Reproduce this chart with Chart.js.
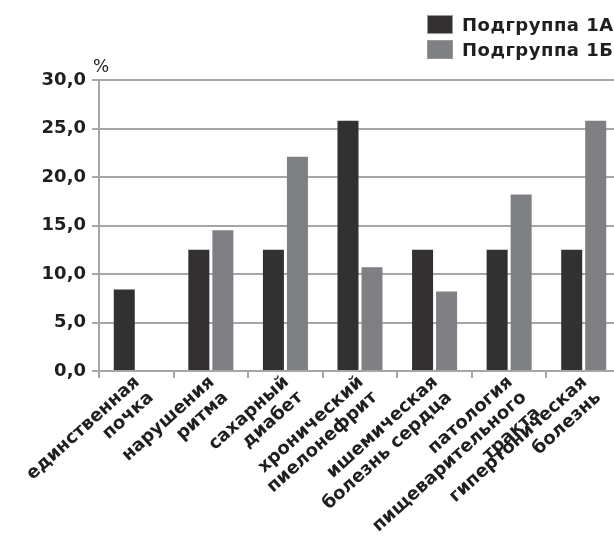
<!DOCTYPE html>
<html>
<head>
<meta charset="utf-8">
<script src="https://cdn.jsdelivr.net/npm/chart.js@4/dist/chart.umd.min.js"></script>
<style>
  body { margin: 0; overflow: hidden; background: #fff; }
  #wrap { position: relative; width: 640px; height: 539px; }
  #legend { position: absolute; top: 12px; left: 427px; font: bold 18px "DejaVu Sans", sans-serif; letter-spacing: 0.5px; color: #1f1f1f; white-space: nowrap; }
  #legend div { height: 25px; display: flex; align-items: center; }
  #legend span.box { display: inline-block; width: 26px; height: 19px; margin-right: 9px; box-sizing: border-box; border: 1px solid #999; }
</style>
</head>
<body>
<div id="wrap">
  <canvas id="chart"></canvas>
  <div id="legend"></div>
</div>
<script>
// Data
const categories = [
    ['единственная', 'почка'],
    ['нарушения', 'ритма'],
    ['сахарный', 'диабет'],
    ['хронический', 'пиелонефрит'],
    ['ишемическая', 'болезнь сердца'],
    ['патология', 'пищеварительного', 'тракта'],
    ['гипертоническая', 'болезнь']
];
const seriesNames = ['Подгруппа 1А', 'Подгруппа 1Б'];
const groupA = [8.4, 12.5, 12.5, 25.8, 12.5, 12.5, 12.5];
const groupB = [0, 14.5, 22.1, 10.7, 8.2, 18.2, 25.8];
const yTicks = [0, 5, 10, 15, 20, 25, 30];

const gridColor = '#a6a6a6';

// "%" over the y axis
const percentSign = {
    id: 'percentSign',
    afterDraw(chart) {
        const { ctx, chartArea } = chart;
        ctx.save();
        ctx.font = '17px "DejaVu Sans"';
        ctx.fillStyle = '#1f1f1f';
        ctx.textAlign = 'center';
        ctx.textBaseline = 'alphabetic';
        ctx.fillText('%', chartArea.left + 2, chartArea.top - 8);
        ctx.restore();
    }
};

const ctx = document.getElementById('chart').getContext('2d');
const chart = new Chart(ctx, {
    type: 'bar',
    data: {
        labels: categories,
        datasets: [
            { label: seriesNames[0], data: groupA, backgroundColor: '#323031' },
            { label: seriesNames[1], data: groupB, backgroundColor: '#7f8083' }
        ]
    },
    options: {
        responsive: true,
        maintainAspectRatio: false,
        animation: false,
        datasets: { bar: { barPercentage: 0.875, categoryPercentage: 0.644 } },
        layout: { padding: { top: 80, right: 19, bottom: 0, left: 0 } },
        plugins: {
            legend: { display: false },
            tooltip: { enabled: false }
        },
        scales: {
            x: {
                grid: { drawOnChartArea: false, drawTicks: true, tickLength: 7, color: gridColor, lineWidth: 2 },
                border: { color: gridColor, width: 2 },
                ticks: {
                    autoSkip: false,
                    minRotation: 42,
                    maxRotation: 42,
                    padding: -6,
                    labelOffset: 1,
                    color: '#1f1f1f',
                    font: { family: 'DejaVu Sans', size: 18, weight: 'bold', lineHeight: 1.15 }
                },
                afterFit: s => { s.height = 168; }
            },
            y: {
                min: 0,
                max: 30,
                grid: { color: gridColor, lineWidth: 2, tickLength: 7 },
                border: { color: gridColor, width: 2 },
                afterBuildTicks: s => { s.ticks = yTicks.map(v => ({ value: v })); },
                ticks: {
                    padding: 6,
                    color: '#1f1f1f',
                    font: { family: 'DejaVu Sans', size: 18, weight: 'bold' },
                    callback: v => v.toFixed(1).replace('.', ',')
                },
                afterFit: s => { s.width = 99; }
            }
        }
    },
    plugins: [percentSign]
});

// Legend built from the datasets
const legendEl = document.getElementById('legend');
chart.data.datasets.forEach(ds => {
    const row = document.createElement('div');
    const box = document.createElement('span');
    box.className = 'box';
    box.style.background = ds.backgroundColor;
    row.appendChild(box);
    row.appendChild(document.createTextNode(ds.label));
    legendEl.appendChild(row);
});
</script>
</body>
</html>
